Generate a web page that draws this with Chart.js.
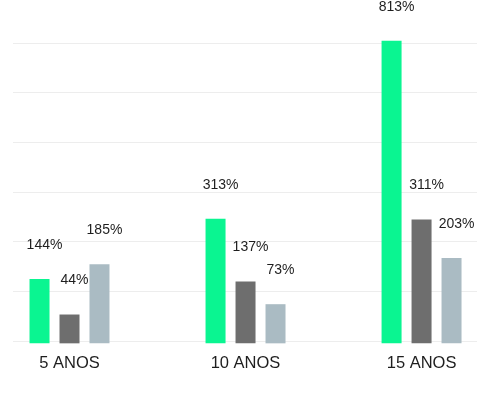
<!DOCTYPE html>
<html>
<head>
<meta charset="utf-8">
<script src="https://cdn.jsdelivr.net/npm/chart.js@4/dist/chart.umd.min.js"></script>
<style>
  html, body { margin: 0; padding: 0; background: #ffffff; }
  #wrap { width: 500px; height: 398px; position: relative; }
</style>
</head>
<body>
<div id="wrap"><canvas id="c"></canvas></div>
<script>
// ---- data ----
const categories = ['5 ANOS', '10 ANOS', '15 ANOS'];
const seriesA = [144, 313, 813];   // green
const seriesB = [44, 137, 311];    // dark gray
const seriesC = [185, 73, 203];    // light gray-blue
const seriesColors = ['#0af591', '#6e6e6e', '#aabbc3'];

const X_MIN = -0.321, X_MAX = 2.315;
const Y_MIN = -31, Y_MAX = 807, BAR_BASE = -37;

const toPoints = arr => arr.map((v, i) => ({ x: i, y: v }));

const valueLabels = {
  id: 'valueLabels',
  afterDatasetsDraw(chart) {
    const ctx = chart.ctx;
    ctx.save();
    ctx.font = '14px "Liberation Sans", Arial, sans-serif';
    ctx.fillStyle = '#1e1e1e';
    ctx.textAlign = 'center';
    ctx.textBaseline = 'middle';
    chart.data.datasets.forEach((ds, di) => {
      const meta = chart.getDatasetMeta(di);
      meta.data.forEach((bar, i) => {
        ctx.fillText(ds.data[i].y + '%', bar.x + 5, bar.y - 34);
      });
    });
    ctx.restore();
  }
};

const mkDs = (vals, color) => ({
  data: toPoints(vals),
  backgroundColor: color,
  borderWidth: 0,
  base: BAR_BASE,
  clip: false,
  barPercentage: 0.667,
  categoryPercentage: 0.511
});

new Chart(document.getElementById('c'), {
  type: 'bar',
  data: {
    datasets: [
      mkDs(seriesA, seriesColors[0]),
      mkDs(seriesB, seriesColors[1]),
      mkDs(seriesC, seriesColors[2])
    ]
  },
  options: {
    responsive: true,
    maintainAspectRatio: false,
    animation: false,
    layout: { padding: { left: 13, right: 23, top: 43, bottom: 13 } },
    plugins: { legend: { display: false }, tooltip: { enabled: false }, title: { display: false } },
    scales: {
      x: {
        type: 'linear',
        offset: false,
        bounds: 'data',
        min: X_MIN,
        max: X_MAX,
        afterDataLimits: scale => { scale.min = X_MIN; scale.max = X_MAX; },
        afterBuildTicks: scale => { scale.ticks = categories.map((_, i) => ({ value: i })); },
        grid: { display: false, drawTicks: false, offset: false },
        border: { display: false },
        ticks: {
          callback: v => categories[v],
          autoSkip: false,
          maxRotation: 0,
          padding: 12,
          color: '#1e1e1e',
          font: { family: '"Liberation Sans", Arial, sans-serif', size: 16.5 }
        }
      },
      y: {
        min: Y_MIN,
        max: Y_MAX,
        grid: { color: '#ededed', lineWidth: 1, drawTicks: false },
        border: { display: false },
        ticks: { display: false, count: 7 }
      }
    }
  },
  plugins: [valueLabels]
});
</script>
</body>
</html>
